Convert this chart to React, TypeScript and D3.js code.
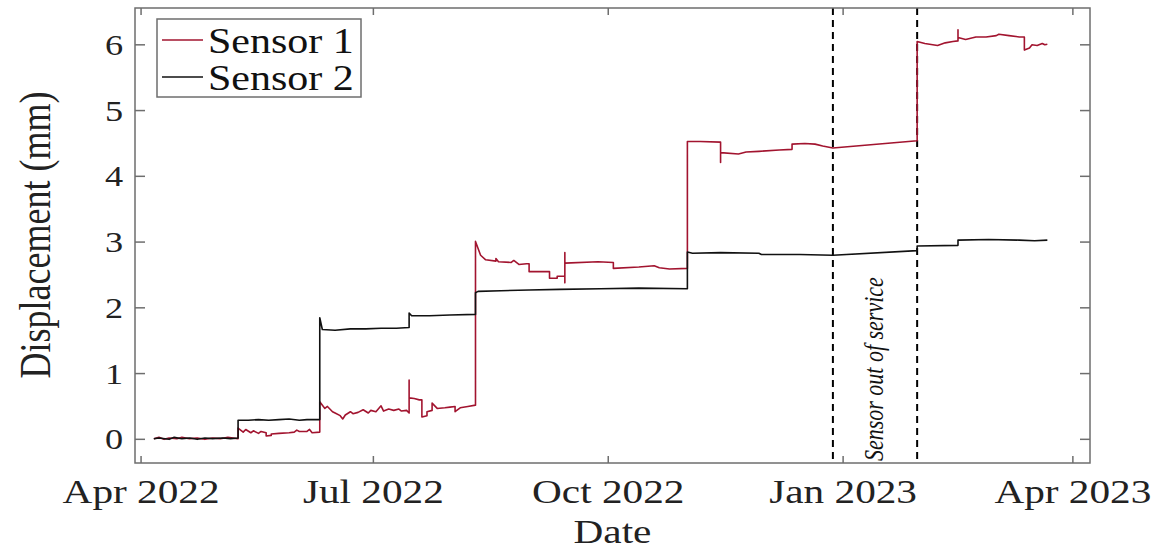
import React from "react";
import * as d3 from "d3";

// Sensor 1 (crack displacement, mm)
const s1Dates = [
  "2022-04-06", "2022-04-08", "2022-04-10", "2022-04-12", "2022-04-15", "2022-04-17", "2022-04-20",
  "2022-04-23", "2022-04-26", "2022-04-29", "2022-05-02", "2022-05-05", "2022-05-09", "2022-05-09",
  "2022-05-11", "2022-05-12", "2022-05-14", "2022-05-15", "2022-05-17", "2022-05-18", "2022-05-20",
  "2022-05-20", "2022-05-22", "2022-05-22", "2022-05-25", "2022-05-29", "2022-05-31", "2022-06-01",
  "2022-06-02", "2022-06-05", "2022-06-06", "2022-06-07", "2022-06-10", "2022-06-10", "2022-06-12",
  "2022-06-13", "2022-06-15", "2022-06-16", "2022-06-18", "2022-06-19", "2022-06-20", "2022-06-22",
  "2022-06-23", "2022-06-25", "2022-06-27", "2022-06-29", "2022-06-30", "2022-07-02", "2022-07-04",
  "2022-07-05", "2022-07-07", "2022-07-09", "2022-07-11", "2022-07-12", "2022-07-14", "2022-07-15",
  "2022-07-15", "2022-07-15", "2022-07-17", "2022-07-19", "2022-07-20", "2022-07-20", "2022-07-22",
  "2022-07-22", "2022-07-24", "2022-07-24", "2022-07-26", "2022-07-29", "2022-07-31", "2022-08-02",
  "2022-08-02", "2022-08-04", "2022-08-07", "2022-08-10", "2022-08-10", "2022-08-12", "2022-08-14",
  "2022-08-18", "2022-08-18", "2022-08-19", "2022-08-24", "2022-08-25", "2022-08-27", "2022-08-30",
  "2022-08-31", "2022-08-31", "2022-09-08", "2022-09-08", "2022-09-11", "2022-09-11", "2022-09-14",
  "2022-09-14", "2022-09-14", "2022-09-14", "2022-09-27", "2022-10-03", "2022-10-03", "2022-10-13",
  "2022-10-19", "2022-10-21", "2022-10-25", "2022-11-01", "2022-11-01", "2022-11-06", "2022-11-14",
  "2022-11-14", "2022-11-14", "2022-11-21", "2022-11-24", "2022-11-29", "2022-12-07", "2022-12-12",
  "2022-12-12", "2022-12-17", "2022-12-21", "2022-12-24", "2022-12-28", "2023-01-30", "2023-01-30",
  "2023-02-02", "2023-02-07", "2023-02-10", "2023-02-13", "2023-02-15", "2023-02-15", "2023-02-15",
  "2023-02-18", "2023-02-22", "2023-02-26", "2023-03-02", "2023-03-03", "2023-03-07", "2023-03-11",
  "2023-03-13", "2023-03-13", "2023-03-15", "2023-03-16", "2023-03-18", "2023-03-20", "2023-03-21",
  "2023-03-22",
];
const s1Values = [
  0.01, 0.03, 0.0, 0.02, 0.01, 0.03, 0.01,
  0.02, 0.0, 0.02, 0.01, 0.03, 0.01, 0.17,
  0.11, 0.15, 0.1, 0.13, 0.09, 0.12, 0.1,
  0.05, 0.06, 0.08, 0.09, 0.1, 0.11, 0.14,
  0.12, 0.12, 0.15, 0.1, 0.11, 0.57, 0.47,
  0.5, 0.42, 0.4, 0.36, 0.31, 0.37, 0.42,
  0.39, 0.41, 0.45, 0.4, 0.44, 0.42, 0.51,
  0.43, 0.46, 0.44, 0.46, 0.43, 0.44, 0.4,
  0.9, 0.63, 0.62, 0.6, 0.6, 0.34, 0.36,
  0.42, 0.44, 0.55, 0.47, 0.48, 0.49, 0.5,
  0.42, 0.48, 0.5, 0.52, 3.01, 2.8, 2.73,
  2.71, 2.75, 2.7, 2.69, 2.72, 2.66, 2.67,
  2.67, 2.55, 2.55, 2.45, 2.45, 2.48, 2.48,
  2.38, 2.84, 2.68, 2.7, 2.69, 2.6, 2.62,
  2.64, 2.61, 2.59, 2.6, 4.53, 4.53, 4.52,
  4.21, 4.36, 4.34, 4.37, 4.38, 4.4, 4.41,
  4.49, 4.5, 4.49, 4.46, 4.43, 4.54, 6.05,
  6.02, 5.99, 6.03, 6.05, 6.06, 6.23, 6.11,
  6.08, 6.12, 6.12, 6.14, 6.16, 6.14, 6.12,
  6.12, 5.92, 5.95, 6.0, 5.99, 6.02, 6.0,
  6.01,
];

// Sensor 2 (crack displacement, mm)
const s2Dates = [
  "2022-04-06", "2022-04-08", "2022-04-12", "2022-04-14", "2022-04-17", "2022-04-20", "2022-04-23",
  "2022-04-26", "2022-04-29", "2022-05-03", "2022-05-06", "2022-05-09", "2022-05-09", "2022-05-13",
  "2022-05-17", "2022-05-21", "2022-05-25", "2022-05-29", "2022-06-02", "2022-06-05", "2022-06-10",
  "2022-06-10", "2022-06-11", "2022-06-16", "2022-06-22", "2022-06-28", "2022-07-04", "2022-07-10",
  "2022-07-15", "2022-07-15", "2022-07-16", "2022-07-23", "2022-07-31", "2022-08-10", "2022-08-10",
  "2022-08-11", "2022-08-20", "2022-08-31", "2022-09-12", "2022-09-28", "2022-10-13", "2022-11-01",
  "2022-11-01", "2022-11-03", "2022-11-14", "2022-11-29", "2022-11-30", "2022-12-15", "2022-12-28",
  "2023-01-30", "2023-01-30", "2023-02-15", "2023-02-15", "2023-02-27", "2023-03-11", "2023-03-17",
  "2023-03-22",
];
const s2Values = [
  0.01, 0.02, 0.0, 0.03, 0.01, 0.02, 0.0,
  0.02, 0.01, 0.02, 0.01, 0.02, 0.29, 0.29,
  0.3, 0.29, 0.3, 0.31, 0.29, 0.3, 0.3,
  1.85, 1.67, 1.66, 1.68, 1.68, 1.69, 1.69,
  1.7, 1.92, 1.88, 1.88, 1.89, 1.9, 2.23,
  2.25, 2.26, 2.27, 2.28, 2.29, 2.3, 2.29,
  2.85, 2.83, 2.84, 2.83, 2.81, 2.81, 2.8,
  2.87, 2.94, 2.95, 3.03, 3.04, 3.03, 3.02,
  3.03,
];

// Period when the sensors were out of service
const outageDates = ["2022-12-28", "2023-01-30"];
const outageLabel = "Sensor out of service";

const xTickDates = ["2022-04-01", "2022-07-01", "2022-10-01", "2023-01-01", "2023-04-01"];
const yTicks = [0, 1, 2, 3, 4, 5, 6];
const seriesNames = ["Sensor 1", "Sensor 2"];
const seriesColors = ["#a2142f", "#111111"];

const W = 1158;
const H = 549;
const frame = { left: 135, right: 1090, top: 8, bottom: 463 };
const FONT = "'Liberation Serif', 'Times New Roman', serif";
const AXIS = "#6e6e6e";

const parse = d3.utcParse("%Y-%m-%d");
const fmt = d3.utcFormat("%b %Y");

export default function App() {
  const x = d3
    .scaleUtc()
    .domain([new Date(Date.UTC(2022, 2, 29, 15)), new Date(Date.UTC(2023, 3, 7, 17))])
    .range([frame.left, frame.right]);
  const y = d3.scaleLinear().domain([-0.36, 6.56]).range([frame.bottom, frame.top]);

  const line = d3
    .line<[Date, number]>()
    .x((d) => x(d[0]))
    .y((d) => y(d[1]));

  const s1 = s1Dates.map((d, i) => [parse(d)!, s1Values[i]] as [Date, number]);
  const s2 = s2Dates.map((d, i) => [parse(d)!, s2Values[i]] as [Date, number]);
  const series = [s1, s2];

  const xt = xTickDates.map((d) => parse(d)!);
  const ox = outageDates.map((d) => x(parse(d)!));
  const labelX = (ox[0] + ox[1]) / 2 + 8;
  const labelY = (frame.bottom + y(2.8)) / 2 + 10;

  const legend = { x: 157, y: 19, w: 204, h: 78 };

  return (
    <svg
      width={W}
      height={H}
      style={{ position: "absolute", left: 0, top: 0, background: "#fff" }}
      fontFamily={FONT}
    >
      <rect x={0} y={0} width={W} height={H} fill="#fff" />

      {/* outage markers */}
      {ox.map((px, i) => (
        <line
          key={i}
          x1={px}
          x2={px}
          y1={frame.top}
          y2={frame.bottom}
          stroke="#000"
          strokeWidth={2}
          strokeDasharray="7 5"
        />
      ))}
      <text
        transform={`translate(${labelX},${labelY}) scale(1.25,1) rotate(-90)`}
        textAnchor="middle"
        fontSize={22}
        fontStyle="italic"
        fill="#111"
      >
        {outageLabel}
      </text>

      {/* data series */}
      {series.map((s, i) => (
        <path
          key={i}
          d={line(s) ?? ""}
          fill="none"
          stroke={seriesColors[i]}
          strokeWidth={1.6}
          strokeLinejoin="round"
        />
      ))}

      {/* axes box */}
      <rect
        x={frame.left}
        y={frame.top}
        width={frame.right - frame.left}
        height={frame.bottom - frame.top}
        fill="none"
        stroke={AXIS}
        strokeWidth={1.5}
      />
      {xt.map((d, i) => (
        <g key={i}>
          <line x1={x(d)} x2={x(d)} y1={frame.bottom} y2={frame.bottom - 7} stroke={AXIS} strokeWidth={1.5} />
          <line x1={x(d)} x2={x(d)} y1={frame.top} y2={frame.top + 7} stroke={AXIS} strokeWidth={1.5} />
          <text
            transform={`translate(${x(d)},503) scale(1.25,1)`}
            textAnchor="middle"
            fontSize={33}
            fill="#222"
          >
            {fmt(d)}
          </text>
        </g>
      ))}
      {yTicks.map((v) => (
        <g key={v}>
          <line x1={frame.left} x2={frame.left + 10} y1={y(v)} y2={y(v)} stroke={AXIS} strokeWidth={1.5} />
          <line x1={frame.right} x2={frame.right - 10} y1={y(v)} y2={y(v)} stroke={AXIS} strokeWidth={1.5} />
          <text
            transform={`translate(123,${y(v) + 10}) scale(1.25,1)`}
            textAnchor="end"
            fontSize={29}
            fill="#222"
          >
            {v}
          </text>
        </g>
      ))}

      {/* axis titles */}
      <text
        transform={`translate(${(frame.left + frame.right) / 2},543) scale(1.25,1)`}
        textAnchor="middle"
        fontSize={33}
        fill="#222"
      >
        Date
      </text>
      <text
        transform={`translate(50,235) scale(1.25,1) rotate(-90)`}
        textAnchor="middle"
        fontSize={36}
        fill="#222"
      >
        Displacement (mm)
      </text>

      {/* legend */}
      <rect
        x={legend.x}
        y={legend.y}
        width={legend.w}
        height={legend.h}
        fill="#fff"
        stroke={AXIS}
        strokeWidth={1.5}
      />
      {seriesNames.map((name, i) => {
        const cy = 40 + i * 37;
        return (
          <g key={name}>
            <line x1={162} x2={203} y1={cy} y2={cy} stroke={seriesColors[i]} strokeWidth={1.5} />
            <text transform={`translate(208,${cy + 13}) scale(1.2,1)`} fontSize={35} fill="#111">
              {name}
            </text>
          </g>
        );
      })}
    </svg>
  );
}
